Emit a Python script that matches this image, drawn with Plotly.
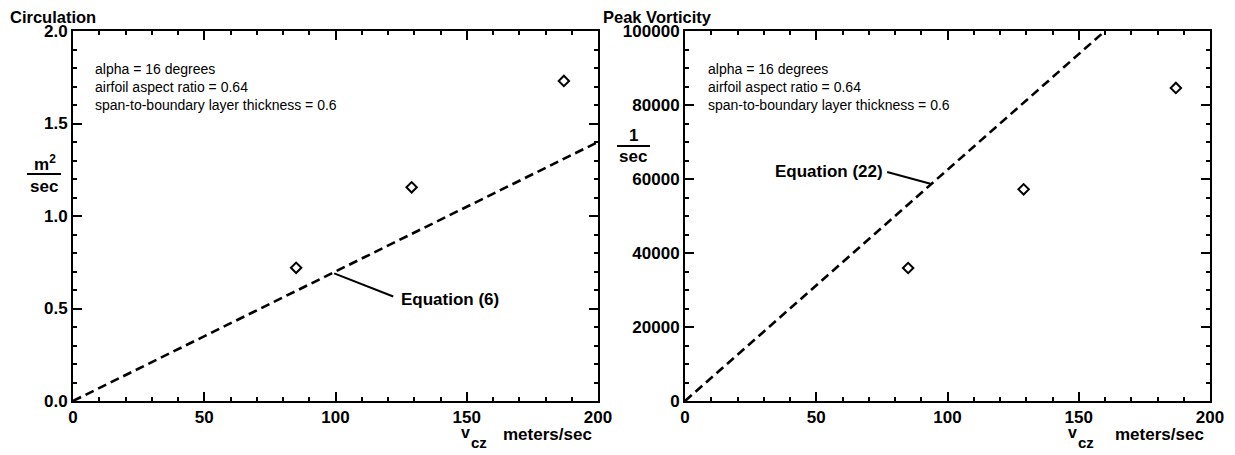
import plotly.graph_objects as go

# Data
vcz = [85, 129, 187]
circulation = [0.72, 1.155, 1.73]
vorticity = [35950, 57200, 84600]

eq6_x = [0, 200]
eq6_y = [0, 1.40]
eq22_x = [0, 160]
eq22_y = [0, 100000]

notes = ["alpha = 16 degrees",
         "airfoil aspect ratio = 0.64",
         "span-to-boundary layer thickness = 0.6"]

# the page body has an 8px margin, so the figure is laid out in page pixels minus that
OFF = 8
W, H = 1235 - OFF, 455 - OFF
FONT = "Liberation Sans, Arial, sans-serif"


def px_x(p):
    return (p - OFF) / W


def px_y(p):
    return 1 - (p - OFF) / H


fig = go.Figure()

# left panel: circulation
fig.add_trace(go.Scatter(x=eq6_x, y=eq6_y, mode='lines',
                         line=dict(color='black', width=2.6, dash='9px,5px'),
                         xaxis='x', yaxis='y', showlegend=False))
fig.add_trace(go.Scatter(x=vcz, y=circulation, mode='markers',
                         marker=dict(symbol='diamond-open', size=8,
                                     color='black', line=dict(width=2)),
                         xaxis='x', yaxis='y', showlegend=False))

# right panel: peak vorticity
fig.add_trace(go.Scatter(x=eq22_x, y=eq22_y, mode='lines',
                         line=dict(color='black', width=2.6, dash='9px,5px'),
                         xaxis='x2', yaxis='y2', showlegend=False))
fig.add_trace(go.Scatter(x=vcz, y=vorticity, mode='markers',
                         marker=dict(symbol='diamond-open', size=8,
                                     color='black', line=dict(width=2)),
                         xaxis='x2', yaxis='y2', showlegend=False))

axis_common = dict(
    showgrid=False, zeroline=False, automargin=False,
    showline=True, linecolor='black', linewidth=2,
    mirror='ticks', ticks='inside', ticklen=9, tickwidth=2, tickcolor='black',
    tickfont=dict(family=FONT, size=17, color='black', weight='bold'),
)


def xaxis(domain, anchor):
    return dict(axis_common, domain=domain, anchor=anchor, range=[0, 200],
                tickvals=[0, 50, 100, 150, 200],
                minor=dict(dtick=10, ticks='inside', ticklen=4, tickwidth=1.5,
                           tickcolor='black'))


x1 = [px_x(73), px_x(598)]
x2 = [px_x(685), px_x(1210)]
ydom = [px_y(401), px_y(31)]

fig.update_layout(
    template='none',
    width=W, height=H,
    margin=dict(l=0, r=0, t=0, b=0, autoexpand=False),
    plot_bgcolor='white', paper_bgcolor='white',
    font=dict(family=FONT, color='black'),
    xaxis=xaxis(x1, 'y'),
    xaxis2=xaxis(x2, 'y2'),
    yaxis=dict(axis_common, domain=ydom, anchor='x', range=[0, 2.0],
               tickvals=[0, 0.5, 1.0, 1.5, 2.0], tickformat='.1f',
               minor=dict(dtick=0.1, ticks='inside', ticklen=4, tickwidth=1.5,
                          tickcolor='black')),
    yaxis2=dict(axis_common, domain=ydom, anchor='x2', range=[0, 100000],
                tickvals=[0, 20000, 40000, 60000, 80000, 100000], tickformat='d',
                minor=dict(dtick=5000, ticks='inside', ticklen=4, tickwidth=1.5,
                           tickcolor='black')),
)

ann = []
shapes = []


def label(text, x, y, size=17, xanchor='center', yanchor='middle', **kw):
    ann.append(dict(text=text, x=px_x(x), y=px_y(y), xref='paper', yref='paper',
                    xanchor=xanchor, yanchor=yanchor, showarrow=False,
                    font=dict(size=size), **kw))


# titles
label('<b>Circulation</b>', 8, 17, size=16.5, xanchor='left')
label('<b>Peak Vorticity</b>', 601, 17, size=16.5, xanchor='left')

# note text blocks
for left in (93, 706):
    label('<br>'.join(notes), left, 59, size=14, xanchor='left', yanchor='top', align='left')

# x-axis titles: v, subscript cz, units
for vx, unit_right in ((465, 594), (1072, 1206)):
    label('<b>v</b>', vx, 432, size=16)
    label('<b>cz</b>', vx + 4, 442, size=15, xanchor='left')
    label('<b>meters/sec</b>', unit_right, 434, xanchor='right')

# y-unit fractions
label('<b>m<sup>2</sup></b>', 45, 163)
label('<b>sec</b>', 44, 186)
shapes.append(dict(type='line', xref='paper', yref='paper', x0=px_x(27), x1=px_x(61),
                   y0=px_y(174), y1=px_y(174), line=dict(color='black', width=2)))
label('<b>1</b>', 633, 135)
label('<b>sec</b>', 633, 157)
shapes.append(dict(type='line', xref='paper', yref='paper', x0=px_x(617), x1=px_x(650),
                   y0=px_y(146), y1=px_y(146), line=dict(color='black', width=2)))

# equation labels and leaders
ann.append(dict(text='<b>Equation (6)</b>', x=124, y=0.55, xref='x', yref='y',
                xanchor='left', yanchor='middle', showarrow=False, font=dict(size=17)))
shapes.append(dict(type='line', xref='x', yref='y', x0=99.5, y0=0.69, x1=122, y1=0.565,
                   line=dict(color='black', width=2)))
ann.append(dict(text='<b>Equation (22)</b>', x=76, y=62000, xref='x2', yref='y2',
                xanchor='right', yanchor='middle', showarrow=False, font=dict(size=17)))
shapes.append(dict(type='line', xref='x2', yref='y2', x0=77, y0=61900, x1=93.5, y1=58700,
                   line=dict(color='black', width=2)))

fig.update_layout(annotations=ann, shapes=shapes)

fig.write_html("out.html")
